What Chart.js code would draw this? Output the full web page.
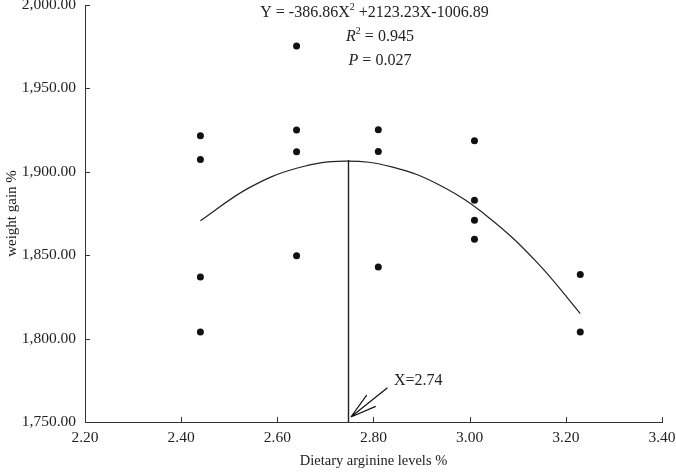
<!DOCTYPE html>
<html>
<head>
<meta charset="utf-8">
<script src="https://cdn.jsdelivr.net/npm/chart.js@4/dist/chart.umd.min.js"></script>
<style>
  html, body { margin: 0; padding: 0; background: #fff; }
  #wrap { width: 676px; height: 474px; }
</style>
</head>
<body>
<div id="wrap"><canvas id="chart"></canvas></div>
<script>
// observed weight gain for each tank
const levels = [2.44, 2.44, 2.44, 2.44, 2.64, 2.64, 2.64, 2.64, 2.81, 2.81, 2.81, 3.01, 3.01, 3.01, 3.01, 3.23, 3.23];
const gains = [1921.6, 1907.4, 1837.0, 1804.0, 1975.4, 1925.0, 1912.0, 1849.6, 1925.2, 1912.2, 1843.0, 1918.6, 1883.0, 1871.0, 1859.6, 1838.4, 1804.0];

// fitted curve
const fitX = [2.44, 2.54, 2.64, 2.74, 2.84, 2.94, 3.04, 3.14, 3.23];
const fitY = [1870.6, 1890.2, 1902.1, 1906.4, 1902.8, 1891.6, 1872.5, 1845.7, 1815.0];

const optimumX = 2.748;
const optimumY = 1907;
const optimumLabel = 'X=2.74';

const xTicks = [2.2, 2.4, 2.6, 2.8, 3.0, 3.2, 3.4];
const yTicks = [1750, 1800, 1850, 1900, 1950, 2000];

const serif = 'Liberation Serif';
const ink = '#222';

function toPoints(xs, ys) {
    return xs.map((v, i) => ({ x: v, y: ys[i] }));
}

// draws a line of text with italic / superscript pieces, centred on cx
function drawRich(ctx, parts, cx, cy, size) {
    const fontOf = p => (p.italic ? 'italic ' : '') + (p.sup ? Math.round(size * 0.62) : size) + 'px "' + serif + '"';
    let total = 0;
    parts.forEach(p => { ctx.font = fontOf(p); p.w = ctx.measureText(p.t).width; total += p.w; });
    let px = cx - total / 2;
    ctx.textAlign = 'left';
    ctx.textBaseline = 'middle';
    parts.forEach(p => {
        ctx.font = fontOf(p);
        ctx.fillText(p.t, px, p.sup ? cy - size * 0.35 : cy);
        px += p.w;
    });
}

const annotate = {
    id: 'annotate',
    afterDraw(chart) {
        const { ctx, chartArea, scales: { x, y } } = chart;
        ctx.save();

        // inward tick marks
        ctx.strokeStyle = '#333';
        ctx.lineWidth = 1;
        ctx.beginPath();
        xTicks.forEach(v => {
            const px = Math.round(x.getPixelForValue(v)) + 0.5;
            ctx.moveTo(px, chartArea.bottom);
            ctx.lineTo(px, chartArea.bottom - 5);
        });
        yTicks.forEach(v => {
            const py = Math.round(y.getPixelForValue(v)) + 0.5;
            ctx.moveTo(chartArea.left, py);
            ctx.lineTo(chartArea.left + 5, py);
        });
        ctx.stroke();

        // arrow pointing at the optimum
        const tipX = x.getPixelForValue(2.753), tipY = y.getPixelForValue(1753);
        const tailX = x.getPixelForValue(2.829), tailY = y.getPixelForValue(1770.5);
        const ang = Math.atan2(tailY - tipY, tailX - tipX);
        ctx.strokeStyle = '#111';
        ctx.lineWidth = 1.2;
        ctx.beginPath();
        ctx.moveTo(tailX, tailY);
        ctx.lineTo(tipX, tipY);
        [-0.27, 0.27].forEach(d => {
            ctx.moveTo(tipX, tipY);
            ctx.lineTo(tipX + 27 * Math.cos(ang + d), tipY + 27 * Math.sin(ang + d));
        });
        ctx.stroke();

        ctx.fillStyle = ink;
        ctx.font = '16px "' + serif + '"';
        ctx.textAlign = 'left';
        ctx.textBaseline = 'middle';
        ctx.fillText(optimumLabel, x.getPixelForValue(2.8427), y.getPixelForValue(1774.5));

        // regression text
        drawRich(ctx, [{ t: 'Y = -386.86X' }, { t: '2', sup: true }, { t: ' +2123.23X-1006.89' }],
            x.getPixelForValue(2.802), y.getPixelForValue(1995.4), 16);
        drawRich(ctx, [{ t: 'R', italic: true }, { t: '2', sup: true }, { t: ' = 0.945' }],
            x.getPixelForValue(2.8135), y.getPixelForValue(1981), 16);
        drawRich(ctx, [{ t: 'P', italic: true }, { t: ' = 0.027' }],
            x.getPixelForValue(2.8135), y.getPixelForValue(1966.4), 16);

        ctx.restore();
    }
};

new Chart(document.getElementById('chart'), {
    type: 'scatter',
    data: {
        datasets: [
            {
                data: toPoints(levels, gains),
                pointRadius: 3.5,
                pointBackgroundColor: '#111',
                pointBorderWidth: 0,
                showLine: false
            },
            {
                data: toPoints(fitX, fitY),
                showLine: true,
                tension: 0.4,
                pointRadius: 0,
                borderColor: '#222',
                borderWidth: 1.2
            },
            {
                data: [{ x: optimumX, y: optimumY }, { x: optimumX, y: 1750 }],
                showLine: true,
                pointRadius: 0,
                borderColor: '#222',
                borderWidth: 1.4
            }
        ]
    },
    options: {
        responsive: true,
        maintainAspectRatio: false,
        animation: false,
        events: [],
        layout: { padding: { top: 5, right: 14, left: 0, bottom: 0 } },
        plugins: { legend: { display: false }, tooltip: { enabled: false } },
        scales: {
            x: {
                type: 'linear',
                min: 2.2,
                max: 3.4,
                afterBuildTicks: s => { s.ticks = xTicks.map(v => ({ value: v })); },
                afterFit: s => { s.height = 52; s.paddingLeft = 0; s.paddingRight = 0; },
                ticks: {
                    callback: v => v.toFixed(2),
                    font: { family: serif, size: 15.5 },
                    color: ink,
                    padding: 7,
                    maxRotation: 0
                },
                grid: { drawOnChartArea: false, drawTicks: false },
                border: { color: '#333', width: 1 },
                title: {
                    display: true,
                    text: 'Dietary arginine levels %',
                    font: { family: serif, size: 14.5 },
                    color: ink,
                    padding: { top: 0, bottom: 4 }
                }
            },
            y: {
                min: 1750,
                max: 2000,
                afterBuildTicks: s => { s.ticks = yTicks.map(v => ({ value: v })); },
                afterFit: s => { s.width = 85; s.paddingTop = 0; s.paddingBottom = 0; },
                ticks: {
                    callback: v => v.toLocaleString('en-US', { minimumFractionDigits: 2, maximumFractionDigits: 2 }),
                    font: { family: serif, size: 15.5 },
                    color: ink,
                    padding: 9
                },
                grid: { drawOnChartArea: false, drawTicks: false },
                border: { color: '#333', width: 1 },
                title: {
                    display: true,
                    text: 'weight gain %',
                    font: { family: serif, size: 15 },
                    color: ink,
                    padding: { top: 3, bottom: 0 }
                }
            }
        }
    },
    plugins: [annotate]
});
</script>
</body>
</html>
